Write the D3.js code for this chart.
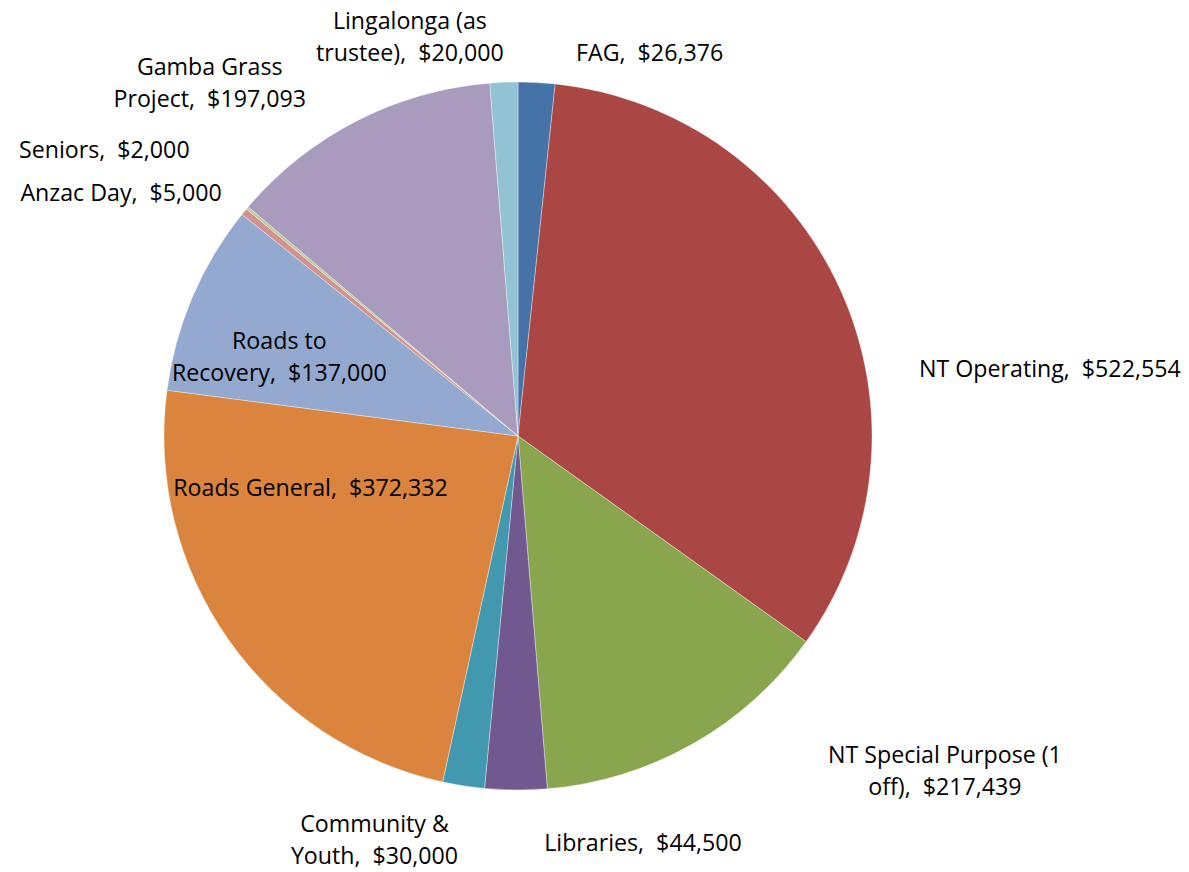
<!DOCTYPE html>
<html lang="en">
<head>
  <meta charset="UTF-8">
  <title>Funding</title>
  <script src="https://d3js.org/d3.v7.min.js"></script>
  <style>
    body { margin: 0; background: #fff; }
    text { font-family: 'Open Sans', 'Noto Sans', sans-serif; fill: #000; }
  </style>
</head>
<body>
  <div id="root"></div>
  <script>
    // names ("\n" = where the label wraps)
    const categories = [
      'FAG', 'NT Operating', 'NT Special Purpose (1\noff)', 'Libraries', 'Community &\nYouth',
      'Roads General', 'Roads to\nRecovery', 'Anzac Day', 'Seniors', 'Gamba Grass\nProject',
      'Lingalonga (as\ntrustee)'
    ]
    const values = [26376, 522554, 217439, 44500, 30000, 372332, 137000, 5000, 2000, 197093, 20000]
    const colors = ['#4572A7', '#AA4643', '#89A54E', '#71588F', '#4198AF', '#DB843D',
      '#93A9CF', '#D19392', '#B9CD96', '#A99BBD', '#92C3D4']

    // label centre, offset from the slice's outer edge at its mid angle
    const labelOffsets = [
      [113, -30], [209, 78], [252, 27], [127, 53], [-89, 54], [82, -152],
      [87, 60], [-123, -19], [-143, -58], [-147, -38], [-94, -45]
    ]

    const width = 1189
    const height = 872
    const cx = 518
    const cy = 436
    const radius = 354
    const lineH = 32

    const data = categories.map((c, i) => ({ name: c, value: values[i], color: colors[i], off: labelOffsets[i] }))

    const svg = d3.select('#root')
      .append('svg')
        .attr('width', width)
        .attr('height', height)

    const g = svg.append('g')
      .attr('transform', `translate(${cx},${cy})`)

    const pie = d3.pie()
      .value(d => d.value)
      .sort(null)

    const arc = d3.arc()
      .innerRadius(0)
      .outerRadius(radius)

    const arcs = pie(data)

    g.selectAll('path')
      .data(arcs)
      .join('path')
      .attr('d', arc)
      .attr('fill', d => d.data.color)
      .attr('stroke', 'rgba(255,255,255,0.5)')
      .attr('stroke-width', 0.7)

    const fmt = d3.format(',')

    const labels = g.selectAll('text.label')
      .data(arcs)
      .join('text')
      .attr('class', 'label')
      .attr('xml:space', 'preserve')
      .attr('text-anchor', 'middle')
      .style('font-size', '23.2px')
      .attr('transform', d => {
        const a = (d.startAngle + d.endAngle) / 2
        const x = radius * Math.sin(a) + d.data.off[0]
        const y = -radius * Math.cos(a) + d.data.off[1]
        return `translate(${x},${y})`
      })

    labels.each(function(d) {
      const lines = (d.data.name + ',  $' + fmt(d.data.value)).split('\n')
      const t = d3.select(this)
      lines.forEach((ln, i) => {
        t.append('tspan')
          .attr('x', 0)
          .attr('y', (i - (lines.length - 1) / 2) * lineH)
          .attr('dy', '0.35em')
          .text(ln)
      })
    })
  </script>
</body>
</html>
